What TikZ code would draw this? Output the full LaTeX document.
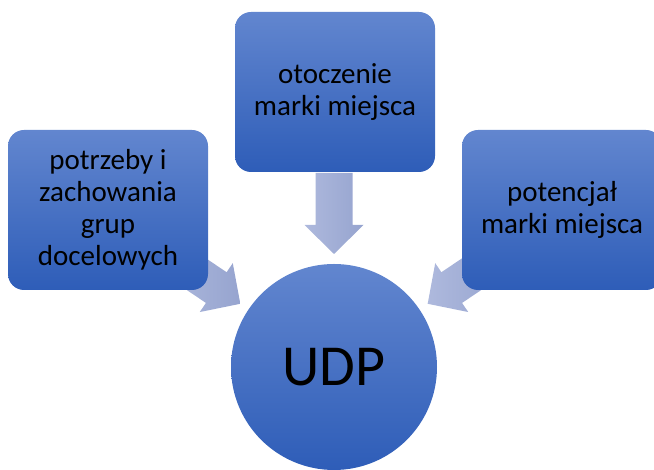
\documentclass[tikz,border=0pt]{standalone}
\usepackage{fontspec}
\setmainfont{Carlito}
\usetikzlibrary{calc,backgrounds}
\definecolor{boxtop}{RGB}{98,134,207}
\definecolor{boxbot}{RGB}{46,93,184}
\definecolor{arrowbase}{RGB}{174,185,221}
\definecolor{arrowtip}{RGB}{150,164,207}

\begin{document}
\begin{tikzpicture}[x=1pt,y=1pt,
  box/.style={rounded corners=16pt,minimum width=200pt,minimum height=160pt,
    top color=boxtop,bottom color=boxbot,align=center,
    font=\fontsize{29}{32}\selectfont},
  hub/.style={circle,minimum size=206pt,top color=boxtop,bottom color=boxbot,
    font=\fontsize{58}{64}\selectfont},
  blockarrow/.style={left color=arrowbase,right color=arrowtip}]
  \path[use as bounding box,clip] (0,0) rectangle (654,470);
  \node[hub] (udp) at (334,103) {UDP};
  \node[box] (otoczenie) at (335,378) {otoczenie\\marki miejsca};
  \node[box] (potrzeby) at (108,260) {potrzeby i\\zachowania\\grup\\docelowych};
  \node[box] (potencjal) at (562,260) {potencjał\\marki miejsca};
  % strzalki do UDP
  \begin{scope}[on background layer]
    \foreach \ang in {146,90,34}{
      \begin{scope}[shift={($(udp.center)+(\ang:113)$)},rotate=\ang+180]
        \shade[blockarrow] (0,0)--(-29,29.5)--(-29,18.5)--(-81,18.5)--(-81,-18.5)
          --(-29,-18.5)--(-29,-29.5)--cycle;
      \end{scope}}
  \end{scope}
\end{tikzpicture}
\end{document}
